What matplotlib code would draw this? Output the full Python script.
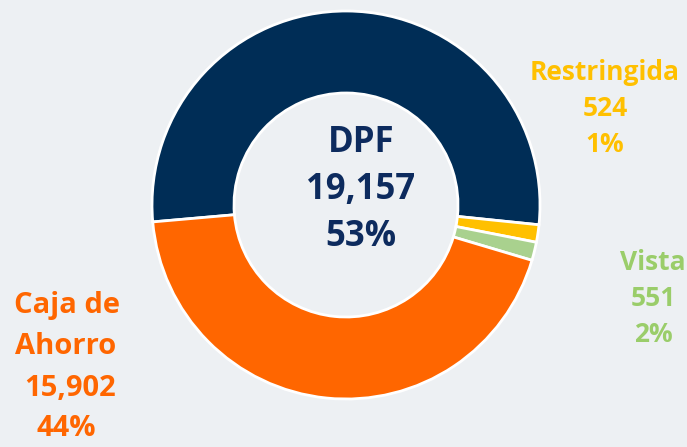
import matplotlib.pyplot as plt

# datos del grafico
categorias = ['DPF', 'Restringida', 'Vista', 'Caja de Ahorro']
montos = [19157, 524, 551, 15902]
porcentajes = ['53%', '1%', '2%', '44%']
colores = ['#002D56', '#FFC000', '#A9D18E', '#FF6600']
colores_texto = ['#0D2B5E', '#FFC000', '#9ACD6A', '#FF6600']

plt.rcParams['font.family'] = ['Open Sans', 'DejaVu Sans']

fig = plt.figure(figsize=(6.87, 4.47), dpi=100)
fig.patch.set_facecolor('#EDF0F3')
ax = fig.add_axes([0, 0, 1, 1])
ax.set_facecolor('#EDF0F3')

H = 447
ax.pie(montos, colors=colores, startangle=185, counterclock=False,
       center=(346, H - 205), radius=194,
       wedgeprops=dict(width=82, edgecolor='white', linewidth=2))
ax.set_xlim(0, 687)
ax.set_ylim(0, H)
ax.set_aspect('equal')
ax.axis('off')

def texto(x, y, s, color, size):
    ax.text(x, H - y, s, color=color, fontsize=size, fontweight='bold',
            ha='center', va='center')

# centro (DPF)
etiq = [categorias[0], f'{montos[0]:,}', porcentajes[0]]
for i, s in enumerate(etiq):
    texto(361, 143 + i * 47, s, colores_texto[0], 25)

# Restringida
etiq = [categorias[1], f'{montos[1]:,}', porcentajes[1]]
for i, s in enumerate(etiq):
    texto(605, 72 + i * 36, s, colores_texto[1], 19)

# Vista
etiq = [categorias[2], f'{montos[2]:,}', porcentajes[2]]
for i, s in enumerate(etiq):
    texto(653, 263 + i * 36, s, colores_texto[2], 19)

# Caja de Ahorro
etiq = ['Caja de', 'Ahorro', f'{montos[3]:,}', porcentajes[3]]
xs = [67, 66, 70, 66]
for i, s in enumerate(etiq):
    texto(xs[i], 306 + i * 41, s, colores_texto[3], 21)

fig.savefig('out.png', dpi=100, facecolor=fig.get_facecolor())
